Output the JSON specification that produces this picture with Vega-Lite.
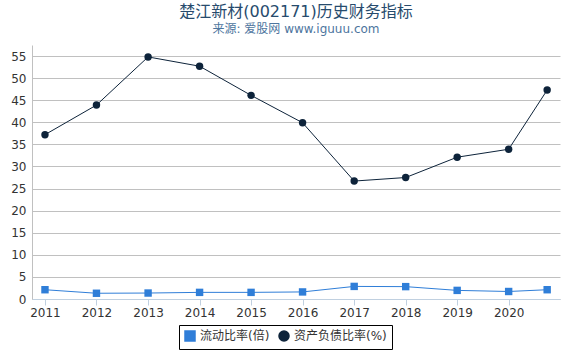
{
  "$schema": "https://vega.github.io/schema/vega-lite/v6.json",
  "width": 570,
  "height": 350,
  "autosize": {"type": "fit", "contains": "padding"},
  "padding": {"left": 10, "right": 10, "top": 4, "bottom": 32},
  "background": "white",
  "title": {
    "text": "楚江新材(002171)历史财务指标",
    "subtitle": "来源: 爱股网 www.iguuu.com",
    "fontSize": 16,
    "fontWeight": "normal",
    "color": "#274b6d",
    "subtitleColor": "#4d759e",
    "subtitleFontSize": 12,
    "font": "DejaVu Sans, Noto Sans CJK SC",
    "subtitleFont": "DejaVu Sans, Noto Sans CJK SC",
    "anchor": "middle",
    "offset": 10,
    "subtitlePadding": 4
  },
  "config": {
    "font": "DejaVu Sans, Noto Sans CJK SC",
    "view": {"stroke": null},
    "axis": {"labelFontSize": 12, "labelColor": "#333333", "title": null}
  },
  "data": {
    "values": [
      {"date": "2011-01-01", "series": "流动比率(倍)", "value": 2.1},
      {"date": "2012-01-01", "series": "流动比率(倍)", "value": 1.3},
      {"date": "2013-01-01", "series": "流动比率(倍)", "value": 1.35},
      {"date": "2014-01-01", "series": "流动比率(倍)", "value": 1.5},
      {"date": "2015-01-01", "series": "流动比率(倍)", "value": 1.5},
      {"date": "2016-01-01", "series": "流动比率(倍)", "value": 1.6},
      {"date": "2017-01-01", "series": "流动比率(倍)", "value": 2.85},
      {"date": "2018-01-01", "series": "流动比率(倍)", "value": 2.8},
      {"date": "2019-01-01", "series": "流动比率(倍)", "value": 1.95},
      {"date": "2020-01-01", "series": "流动比率(倍)", "value": 1.7},
      {"date": "2020-09-30", "series": "流动比率(倍)", "value": 2.1},
      {"date": "2011-01-01", "series": "资产负债比率(%)", "value": 37.2},
      {"date": "2012-01-01", "series": "资产负债比率(%)", "value": 43.9},
      {"date": "2013-01-01", "series": "资产负债比率(%)", "value": 54.8},
      {"date": "2014-01-01", "series": "资产负债比率(%)", "value": 52.7},
      {"date": "2015-01-01", "series": "资产负债比率(%)", "value": 46.1},
      {"date": "2016-01-01", "series": "资产负债比率(%)", "value": 39.9},
      {"date": "2017-01-01", "series": "资产负债比率(%)", "value": 26.7},
      {"date": "2018-01-01", "series": "资产负债比率(%)", "value": 27.5},
      {"date": "2019-01-01", "series": "资产负债比率(%)", "value": 32.1},
      {"date": "2020-01-01", "series": "资产负债比率(%)", "value": 33.9},
      {"date": "2020-09-30", "series": "资产负债比率(%)", "value": 47.3}
    ]
  },
  "encoding": {
    "x": {
      "field": "date",
      "type": "temporal",
      "scale": {"domain": ["2010-10-01", "2020-12-30"]},
      "axis": {
        "format": "%Y",
        "values": ["2011-01-01", "2012-01-01", "2013-01-01", "2014-01-01", "2015-01-01", "2016-01-01", "2017-01-01", "2018-01-01", "2019-01-01", "2020-01-01"],
        "grid": false,
        "domainColor": "#c0d0e0",
        "tickColor": "#c0d0e0",
        "tickSize": 6,
        "labelPadding": 2,
        "labelFlush": false
      }
    },
    "y": {
      "field": "value",
      "type": "quantitative",
      "scale": {"domain": [0, 57.5], "nice": false},
      "axis": {
        "values": [0, 5, 10, 15, 20, 25, 30, 35, 40, 45, 50, 55],
        "gridColor": "#c0c0c0",
        "domainColor": "#c0c0c0",
        "ticks": false,
        "labelPadding": 6
      }
    },
    "color": {
      "field": "series",
      "type": "nominal",
      "scale": {"domain": ["流动比率(倍)", "资产负债比率(%)"], "range": ["#2f7ed8", "#0d233a"]},
      "legend": {
        "orient": "none",
        "legendX": 147,
        "legendY": 280,
        "direction": "horizontal",
        "title": null,
        "strokeColor": "#000000",
        "padding": 5,
        "labelFontSize": 12,
        "labelColor": "#333333",
        "columnPadding": 6
      }
    }
  },
  "layer": [
    {"mark": {"type": "line", "strokeWidth": 1}},
    {
      "mark": {"type": "point", "filled": true, "opacity": 1, "size": 55},
      "encoding": {
        "shape": {
          "field": "series",
          "type": "nominal",
          "scale": {"domain": ["流动比率(倍)", "资产负债比率(%)"], "range": ["square", "circle"]},
          "legend": {
            "orient": "none",
            "legendX": 147,
            "legendY": 280,
            "direction": "horizontal",
            "title": null,
            "strokeColor": "#000000",
            "padding": 5,
            "labelFontSize": 12,
            "labelColor": "#333333",
            "columnPadding": 6
          }
        }
      }
    }
  ]
}
